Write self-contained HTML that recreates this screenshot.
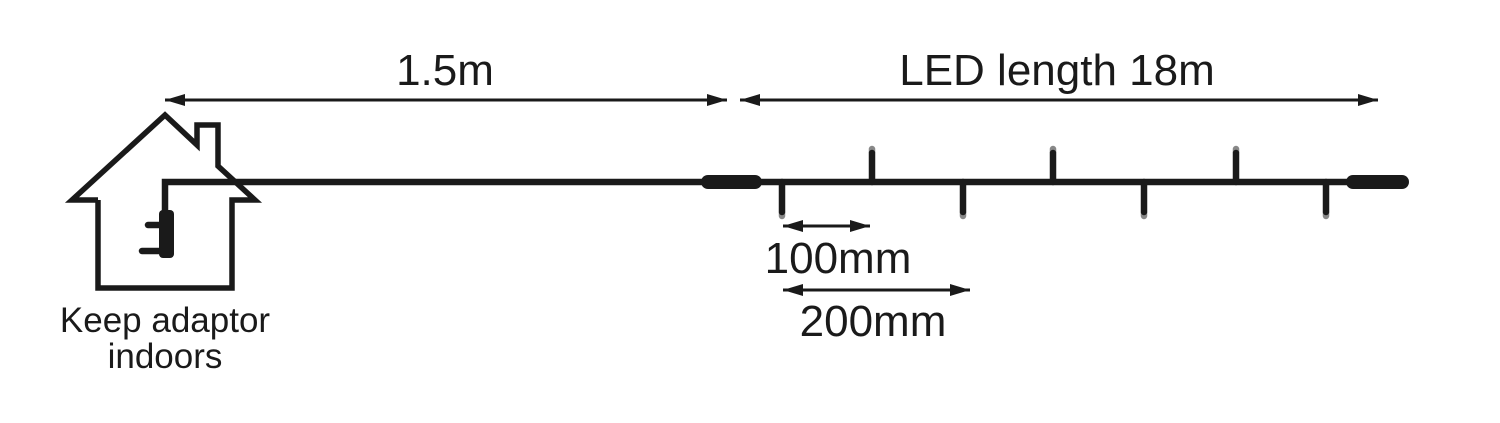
<!DOCTYPE html>
<html><head><style>body{margin:0;background:#fff}svg{display:block}</style></head>
<body>
<svg width="1500" height="423" viewBox="0 0 1500 423" xmlns="http://www.w3.org/2000/svg" font-family="Liberation Sans, sans-serif" fill="#1a1a1a">
<defs>
<marker id="b" viewBox="0 0 20 12" markerWidth="22" markerHeight="12" refX="20" refY="6" orient="auto-start-reverse" markerUnits="userSpaceOnUse"><path d="M0,0 L20,6 L0,12 Z" fill="#1a1a1a"/></marker>
</defs>
<g stroke="#1a1a1a" fill="none" stroke-width="5.5">
<polyline points="98,200 72,200 165,115 197,145 197,125 218,125 218,166 255,200 232,200 232,288 98,288 98,200"/>
</g>
<g stroke="#1a1a1a" fill="none" stroke-width="3">
<line x1="165" y1="100" x2="727" y2="100" marker-start="url(#b)" marker-end="url(#b)"/>
<line x1="740" y1="100" x2="1378" y2="100" marker-start="url(#b)" marker-end="url(#b)"/>
<line x1="783" y1="226" x2="870" y2="226" marker-start="url(#b)" marker-end="url(#b)"/>
<line x1="783" y1="290" x2="970" y2="290" marker-start="url(#b)" marker-end="url(#b)"/>
</g>
<g stroke="#1a1a1a" fill="none" stroke-width="6.5" stroke-linecap="round">
<polyline points="165,212 165,182 1350,182" stroke-linecap="butt"/>
<line x1="148" y1="225" x2="160" y2="225"/>
<line x1="142" y1="251" x2="160" y2="251"/>
</g>
<rect x="159" y="210" width="15" height="48" rx="4" fill="#1a1a1a"/>
<rect x="701" y="175" width="61" height="14" rx="7" fill="#1a1a1a"/>
<rect x="1346" y="175" width="63" height="14" rx="7" fill="#1a1a1a"/>
<g stroke-width="6.5" stroke-linecap="round">
<g stroke="#888"><line x1="872" y1="149" x2="872" y2="152"/><line x1="1053" y1="149" x2="1053" y2="152"/><line x1="1236" y1="149" x2="1236" y2="152"/>
<line x1="782" y1="213" x2="782" y2="216"/><line x1="963" y1="213" x2="963" y2="216"/><line x1="1144" y1="213" x2="1144" y2="216"/><line x1="1326" y1="213" x2="1326" y2="216"/></g>
<g stroke="#1a1a1a"><line x1="872" y1="153" x2="872" y2="182"/><line x1="1053" y1="153" x2="1053" y2="182"/><line x1="1236" y1="153" x2="1236" y2="182"/>
<line x1="782" y1="182" x2="782" y2="212"/><line x1="963" y1="182" x2="963" y2="212"/><line x1="1144" y1="182" x2="1144" y2="212"/><line x1="1326" y1="182" x2="1326" y2="212"/></g>
</g>
<g font-size="44" text-anchor="middle">
<text x="445" y="85">1.5m</text>
<text x="1057" y="85">LED length 18m</text>
<text x="838" y="273">100mm</text>
<text x="873" y="336">200mm</text>
</g>
<g font-size="35" text-anchor="middle">
<text x="165" y="332">Keep adaptor</text>
<text x="165" y="368">indoors</text>
</g>
</svg>
</body></html>
